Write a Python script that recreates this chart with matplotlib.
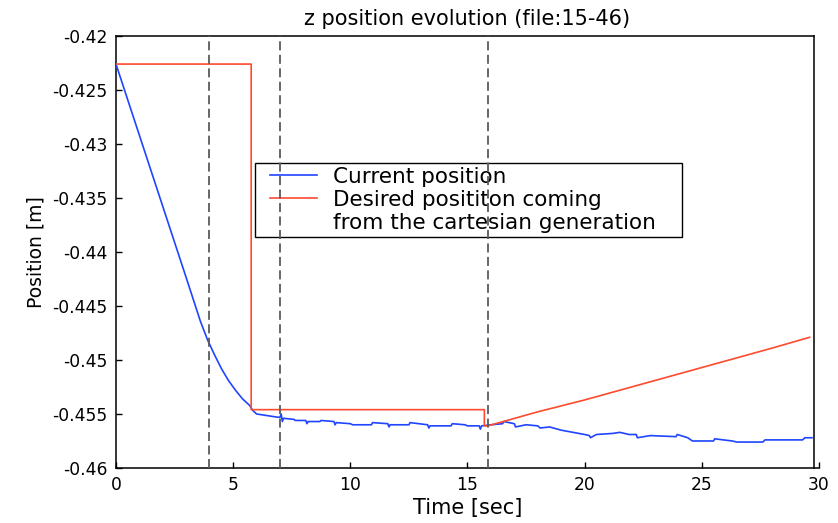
import matplotlib
matplotlib.use("Agg")
import matplotlib.pyplot as plt
from matplotlib.lines import Line2D
from matplotlib.patches import Rectangle

plt.rcParams["font.family"] = ["DejaVu Sans"]
plt.rcParams["axes.unicode_minus"] = False
plt.rcParams["lines.scale_dashes"] = False

# Measured z position (blue)
t_current = [0, 0.5, 1.0, 1.5, 2.0, 2.5, 3.0, 3.3, 3.6, 3.9, 4.2, 4.5, 4.8, 5.1, 5.4,
             5.7, 5.85, 6.0, 6.3, 6.6, 6.9, 7.0, 7.05, 7.1, 7.15, 7.6, 7.65, 8.1, 8.15,
             8.2, 8.7, 8.75, 9.3, 9.35, 9.4, 10.0, 10.1, 10.9, 10.95, 11.6, 11.65, 11.7,
             12.5, 12.55, 13.3, 13.35, 13.4, 14.3, 14.35, 14.9, 15.0, 15.5, 15.55, 15.6,
             16.0, 16.5, 16.55, 17.0, 17.05, 17.5, 18.0, 18.1, 18.5, 19.0, 19.5, 20.0,
             20.2, 20.25, 20.5, 21.2, 21.5, 21.9, 22.2, 22.25, 22.8, 23.9, 23.95, 24.4,
             24.6, 25.5, 25.55, 26.3, 26.5, 27.6, 27.7, 29.3, 29.4, 29.7]
z_current = [-0.4226, -0.4259, -0.4292, -0.4325, -0.4358, -0.4391, -0.4424, -0.4444,
             -0.4464, -0.4481, -0.4495, -0.4508, -0.4519, -0.4528, -0.4536, -0.4542,
             -0.4547, -0.4550, -0.4551, -0.4552, -0.4553, -0.4553, -0.4550, -0.4557,
             -0.4554, -0.4555, -0.4556, -0.4556, -0.4559, -0.4557, -0.4557, -0.4556,
             -0.4557, -0.4560, -0.4558, -0.4559, -0.4560, -0.4560, -0.4558, -0.4559,
             -0.4562, -0.4560, -0.4560, -0.4558, -0.4560, -0.4563, -0.4561, -0.4561,
             -0.4559, -0.4560, -0.4561, -0.4561, -0.4564, -0.4561, -0.4560, -0.4559,
             -0.4557, -0.4559, -0.4562, -0.4560, -0.4561, -0.4563, -0.4562, -0.4565,
             -0.4567, -0.4569, -0.4570, -0.4572, -0.4569, -0.4568, -0.4567, -0.4569,
             -0.4569, -0.4572, -0.4570, -0.4571, -0.4569, -0.4572, -0.4575, -0.4575,
             -0.4573, -0.4575, -0.4576, -0.4576, -0.4574, -0.4574, -0.4572, -0.4572]

# Desired z position from the cartesian generator (red)
t_desired = [0, 5.77, 5.77, 15.72, 15.72, 15.87, 18, 20, 22, 24, 26, 28, 29.6]
z_desired = [-0.4226, -0.4226, -0.4546, -0.4546, -0.4561, -0.4561, -0.4548, -0.4537,
             -0.4525, -0.4513, -0.4501, -0.4489, -0.4479]

# Event markers
t_events = [3.97, 6.98, 15.86]

x_ticks = [0, 5, 10, 15, 20, 25, 30]
y_ticks = [-0.42, -0.425, -0.43, -0.435, -0.44, -0.445, -0.45, -0.455, -0.46]
y_tick_labels = ["-0.42", "-0.425", "-0.43", "-0.435", "-0.44", "-0.445", "-0.45",
                 "-0.455", "-0.46"]

labels = ["Current position", "Desired posititon coming", "from the cartesian generation"]

BLUE = "#1f45ff"
RED = "#ff4a2e"
GRAY = "#5a5a5a"

fig = plt.figure(figsize=(8.38, 5.23), dpi=100)
ax = fig.add_axes([0.1384, 0.1052, 0.8389, 0.8260])

ax.plot(t_current, z_current, color=BLUE, lw=1.2, zorder=3)
ax.plot(t_desired, z_desired, color=RED, lw=1.2, zorder=3)
for te in t_events:
    ax.axvline(te, color=GRAY, lw=1.3, ls=(0, (6.5, 3.2)), zorder=7)

x_end = 29.78
ax.set_xlim(0, 30)
ax.set_ylim(-0.46, -0.42)
ax.set_xticks(x_ticks)
ax.set_yticks(y_ticks)
ax.set_yticklabels(y_tick_labels)
ax.tick_params(direction="in", length=4, width=1, labelsize=12.3, pad=6,
               top=False, right=False, colors="black")
for s in ax.spines.values():
    s.set_linewidth(1.1)
ax.spines["right"].set_position(("data", x_end))
ax.spines["top"].set_bounds(0, x_end)

ax.set_title("z position evolution (file:15-46)", fontsize=15, pad=8)
ax.set_xlabel("Time [sec]", fontsize=15, labelpad=3)
ax.set_ylabel("Position [m]", fontsize=13.5, labelpad=5)

# Legend box with its own border
ax.add_patch(Rectangle((0.1977, 0.534), 0.8051 - 0.1977, 0.7067 - 0.534,
                       transform=ax.transAxes, facecolor="white", edgecolor="black",
                       lw=1.0, zorder=5))
handles = [Line2D([], [], color=BLUE, lw=1.2),
           Line2D([], [], color=RED, lw=1.2),
           Line2D([], [], color="none")]
leg = ax.legend(handles, labels, loc="upper left", bbox_to_anchor=(0.2191, 0.6975),
                frameon=False, borderpad=0, borderaxespad=0, fontsize=15.5,
                handlelength=2.17, handletextpad=0.77, labelspacing=0.15)
leg.set_zorder(6)

fig.savefig("out.png", dpi=100)
